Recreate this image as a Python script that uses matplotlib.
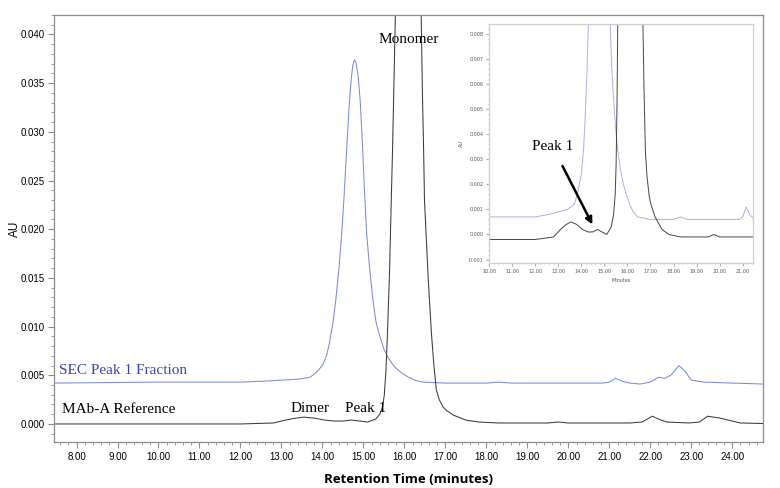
import matplotlib
matplotlib.use("Agg")
import matplotlib.pyplot as plt
from matplotlib.ticker import MultipleLocator, FormatStrFormatter

# SEC Peak 1 Fraction trace (blue)
frac_time = [7.45, 10.0, 11.0, 12.0, 12.6, 13.0, 13.4, 13.7, 13.85, 14.0, 14.1, 14.17,
             14.25, 14.32, 14.4, 14.47, 14.53, 14.59, 14.65, 14.7, 14.74, 14.78, 14.82,
             14.87, 14.92, 14.98, 15.02, 15.08, 15.15, 15.23, 15.31, 15.4, 15.5, 15.59,
             15.7, 15.8, 15.95, 16.1, 16.25, 16.44, 17.0, 18.0, 18.3, 18.6, 20.0,
             20.85, 21.0, 21.15, 21.3, 21.5, 21.75, 22.0, 22.2, 22.35, 22.5, 22.7,
             22.85, 23.0, 23.3, 24.0, 24.75]
frac_au = [0.0042, 0.0043, 0.0043, 0.0043, 0.0044, 0.0045, 0.0046, 0.0048, 0.0053,
           0.0060, 0.0070, 0.0083, 0.0102, 0.0125, 0.0158, 0.0195, 0.0235, 0.0281,
           0.0325, 0.0353, 0.0368, 0.0374, 0.0371, 0.0358, 0.0333, 0.0285, 0.0245,
           0.0195, 0.0161, 0.0128, 0.0104, 0.0090, 0.0077, 0.0069, 0.0062, 0.0057,
           0.0052, 0.0048, 0.0045, 0.0043, 0.0042, 0.0042, 0.0043, 0.0042, 0.0042,
           0.0042, 0.0043, 0.0047, 0.0044, 0.0042, 0.0041, 0.0043, 0.0048, 0.0047,
           0.0050, 0.0060, 0.0054, 0.0045, 0.0043, 0.0042, 0.0041]

# MAb-A Reference trace (black)
ref_time = [7.45, 10.0, 12.0, 12.8, 13.1, 13.35, 13.55, 13.8, 14.05, 14.3, 14.5, 14.7,
            14.9, 15.1, 15.3, 15.4, 15.47, 15.51, 15.55, 15.59, 15.64, 15.68, 15.71,
            15.75, 15.78, 15.85, 16.1, 16.35, 16.41, 16.44, 16.47, 16.49, 16.58, 16.66,
            16.72, 16.78, 16.85, 16.95, 17.02, 17.2, 17.5, 17.8, 18.3, 19.0, 19.5,
            19.75, 20.0, 20.5, 21.0, 21.5, 21.8, 22.05, 22.2, 22.4, 22.95, 23.2, 23.4,
            23.7, 24.2, 24.75]
ref_au = [0.0, 0.0, 0.0, 0.0001, 0.0004, 0.0006, 0.0007, 0.0006, 0.0004, 0.0003,
          0.0003, 0.0004, 0.0003, 0.0002, 0.0005, 0.0010, 0.0018, 0.0030, 0.0055,
          0.0096, 0.0160, 0.0230, 0.0280, 0.0360, 0.0420, 0.0600, 0.0900, 0.0600,
          0.0420, 0.0340, 0.0280, 0.0230, 0.0150, 0.0093, 0.0060, 0.0035, 0.0025,
          0.0017, 0.0014, 0.0009, 0.0004, 0.0002, 0.0001, 0.0001, 0.0001, 0.0002,
          0.0001, 0.0001, 0.0001, 0.0001, 0.0002, 0.0008, 0.0005, 0.0002, 0.0001,
          0.0002, 0.0008, 0.0006, 0.0001, 0.00005]

# baseline shifts used in the zoomed inset
inset_frac_shift = -0.0036
inset_ref_shift = -0.0002

blue = "#7d8ad8"
gray = "#8c8c8c"
serif = "Liberation Serif"
narrow = ["Liberation Sans Narrow", "Liberation Sans"]

fig = plt.figure(figsize=(7.8, 4.88), dpi=100)
ax = fig.add_axes([0.0692, 0.0943, 0.909, 0.875])

ax.plot(frac_time, frac_au, color=blue, lw=0.75)
ax.plot(ref_time, ref_au, color="#3a3a3a", lw=0.75)

ax.set_xlim(7.45, 24.75)
ax.set_ylim(-0.00185, 0.0420)
ax.xaxis.set_major_locator(MultipleLocator(1))
ax.xaxis.set_minor_locator(MultipleLocator(0.2))
ax.yaxis.set_major_locator(MultipleLocator(0.005))
ax.yaxis.set_minor_locator(MultipleLocator(0.001))
ax.xaxis.set_major_formatter(FormatStrFormatter("%.2f"))
ax.yaxis.set_major_formatter(FormatStrFormatter("%.3f"))
ax.tick_params(which="major", length=4, color=gray, labelsize=7, pad=3)
ax.tick_params(which="minor", length=2, color=gray)
for lab in ax.get_xticklabels() + ax.get_yticklabels():
    lab.set_family(narrow)
for s in ax.spines.values():
    s.set_color(gray)
    s.set_linewidth(0.9)

ax.set_xlabel("Retention Time (minutes)", family="Open Sans", fontweight="bold",
              fontsize=9.5, labelpad=8)
ax.set_ylabel("AU", family=narrow, fontsize=8.5)
ax.yaxis.set_label_coords(-0.046, 0.5)

ax.text(7.57, 0.0055, "SEC Peak 1 Fraction", color="#3a46b8", family=serif, fontsize=11,
        va="center")
ax.text(7.65, 0.0015, "MAb-A Reference", color="black", family=serif, fontsize=11,
        va="center")
ax.text(16.1, 0.0395, "Monomer", family=serif, fontsize=11, ha="center", va="center")
ax.text(13.7, 0.0016, "Dimer", family=serif, fontsize=11, ha="center", va="center")
ax.text(15.05, 0.0016, "Peak 1", family=serif, fontsize=11, ha="center", va="center")

# zoomed inset
ins = fig.add_axes([0.627, 0.461, 0.3385, 0.4898])
ins.plot(frac_time, [v + inset_frac_shift for v in frac_au], color="#a9b2e6", lw=0.7)
ins.plot(ref_time, [v + inset_ref_shift for v in ref_au], color="#444444", lw=0.7)
ins.set_xlim(10.0, 21.45)
ins.set_ylim(-0.00114, 0.0084)
ins.xaxis.set_major_locator(MultipleLocator(1))
ins.xaxis.set_minor_locator(MultipleLocator(0.2))
ins.yaxis.set_major_locator(MultipleLocator(0.001))
ins.yaxis.set_minor_locator(MultipleLocator(0.0002))
ins.xaxis.set_major_formatter(FormatStrFormatter("%.2f"))
ins.yaxis.set_major_formatter(FormatStrFormatter("%.3f"))
ins.tick_params(which="major", length=2, color="#aaaaaa", labelsize=3.5, pad=2,
                labelcolor="#555555")
ins.tick_params(which="minor", length=1, color="#bbbbbb")
for s in ins.spines.values():
    s.set_color("#cfcfcf")
    s.set_linewidth(0.9)
ins.set_xlabel("Minutes", fontsize=3.5, color="#555555", labelpad=3)
ins.set_ylabel("AU", fontsize=3.5, color="#555555", labelpad=3)
ins.annotate("Peak 1", xy=(14.48, 0.0004), xytext=(12.76, 0.0035),
             family=serif, fontsize=11, ha="center", va="center",
             arrowprops=dict(arrowstyle="-|>", color="black", lw=1.8,
                             mutation_scale=10, shrinkA=8, shrinkB=0))

fig.savefig("out.png", dpi=100)
